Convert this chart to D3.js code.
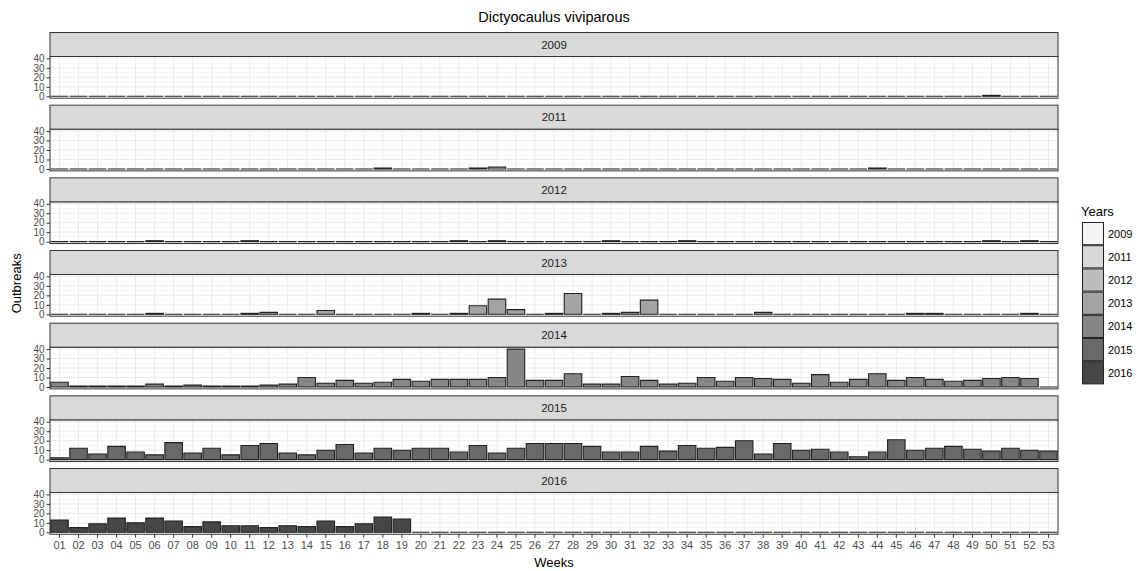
<!DOCTYPE html>
<html>
<head>
<meta charset="utf-8">
<script src="https://cdn.jsdelivr.net/npm/d3@7"></script>
<style>
  body { margin: 0; background: #fff; }
  svg { display: block; font-family: "Liberation Sans", Arial, Helvetica, sans-serif; }
</style>
</head>
<body>
<svg id="chart" width="1137" height="571"></svg>
<script>
// ---------- data ----------
const weeks = ["01","02","03","04","05","06","07","08","09","10","11","12","13","14","15","16","17","18","19","20",
  "21","22","23","24","25","26","27","28","29","30","31","32","33","34","35","36","37","38","39","40",
  "41","42","43","44","45","46","47","48","49","50","51","52","53"];
const years = ["2009","2011","2012","2013","2014","2015","2016"];
const yTicks = [0, 10, 20, 30, 40];
const yearColors = ["#f4f4f4","#d8d8d8","#bdbdbd","#a3a3a3","#868686","#696969","#474747"];

const values2009 = [0,0,0,0,0,0,0,0,0,0, 0,0,0,0,0,0,0,0,0,0, 0,0,0,0,0,0,0,0,0,0, 0,0,0,0,0,0,0,0,0,0, 0,0,0,0,0,0,0,0,0,1, 0,0,0];
const values2011 = [0,0,0,0,0,0,0,0,0,0, 0,0,0,0,0,0,0,1,0,0, 0,0,1,2,0,0,0,0,0,0, 0,0,0,0,0,0,0,0,0,0, 0,0,0,1,0,0,0,0,0,0, 0,0,0];
const values2012 = [0,0,0,0,0,1,0,0,0,0, 1,0,0,0,0,0,0,0,0,0, 0,1,0,1,0,0,0,0,0,1, 0,0,0,1,0,0,0,0,0,0, 0,0,0,0,0,0,0,0,0,1, 0,1,0];
const values2013 = [0,0,0,0,0,1,0,0,0,0, 1,2,0,0,4,0,0,0,0,1, 0,1,9,16,5,0,1,22,0,1, 2,15,0,0,0,0,0,2,0,0, 0,0,0,0,0,1,1,0,0,0, 0,1,0];
const values2014 = [5,1,1,1,1,3,1,2,1,1, 1,2,3,10,4,7,4,5,8,6, 8,8,8,10,40,7,7,14,3,3, 11,7,3,4,10,6,10,9,8,4, 13,5,8,14,7,10,8,6,7,9, 10,9,0];
const values2015 = [2,12,6,14,8,5,18,7,12,5, 15,17,7,5,10,16,7,12,10,12, 12,8,15,7,12,17,17,17,14,8, 8,14,9,15,12,13,20,6,17,10, 11,8,3,8,21,10,12,14,11,9, 12,10,9];
const values2016 = [13,5,9,15,10,15,12,6,11,7, 7,5,7,6,12,6,9,16,14,0, 0,0,0,0,0,0,0,0,0,0, 0,0,0,0,0,0,0,0,0,0, 0,0,0,0,0,0,0,0,0,0, 0,0,0];
const seriesValues = [values2009, values2011, values2012, values2013, values2014, values2015, values2016];

// ---------- layout ----------
const svg = d3.select("#chart");
const left = 50, right = 1058;
const firstStrip = 32.5, period = 72.67, stripH = 24, plotH = 41.7;

const x = d3.scaleBand().domain(weeks).range([left, right]).paddingInner(0.08).paddingOuter(0.04);
const y = d3.scaleLinear().domain([-2, 42]).range([plotH, 0]);
const color = d3.scaleOrdinal().domain(years).range(yearColors);

// title
svg.append("text").attr("x", (left + right) / 2).attr("y", 22).attr("text-anchor", "middle")
  .attr("font-size", 14.5).attr("fill", "#000").text("Dictyocaulus viviparous");

years.forEach((yr, i) => {
  const st = firstStrip + i * period;
  const pt = st + stripH;
  const g = svg.append("g").attr("transform", `translate(0,${pt})`);

  g.append("rect").attr("x", left).attr("y", 0).attr("width", right - left).attr("height", plotH).attr("fill", "#fff");
  g.selectAll("line.ymin").data([5, 15, 25, 35]).enter().append("line")
    .attr("x1", left).attr("x2", right).attr("y1", d => y(d)).attr("y2", d => y(d))
    .attr("stroke", "#f2f2f2").attr("stroke-width", 0.6);
  g.selectAll("line.ymaj").data(yTicks).enter().append("line")
    .attr("x1", left).attr("x2", right).attr("y1", d => y(d)).attr("y2", d => y(d))
    .attr("stroke", "#ebebeb").attr("stroke-width", 1);
  g.selectAll("line.xmaj").data(weeks).enter().append("line")
    .attr("x1", d => x(d) + x.bandwidth() / 2).attr("x2", d => x(d) + x.bandwidth() / 2)
    .attr("y1", 0).attr("y2", plotH)
    .attr("stroke", "#ebebeb").attr("stroke-width", 1);

  const vals = seriesValues[i];
  g.selectAll("path.bar").data(weeks.map((w, k) => ({ w, v: vals[k] }))).enter().append("path")
    .attr("d", d => {
      const x0 = x(d.w), x1 = x(d.w) + x.bandwidth();
      const y0 = y(0), y1 = y(d.v);
      return `M${x0},${y0}L${x0},${y1}L${x1},${y1}L${x1},${y0}Z`;
    })
    .attr("fill", color(yr)).attr("stroke", "#222").attr("stroke-width", 1.1);

  g.append("rect").attr("x", left).attr("y", 0).attr("width", right - left).attr("height", plotH)
    .attr("fill", "none").attr("stroke", "#333").attr("stroke-width", 1);

  svg.append("rect").attr("x", left).attr("y", st).attr("width", right - left).attr("height", stripH)
    .attr("fill", "#d9d9d9").attr("stroke", "#333").attr("stroke-width", 1);
  svg.append("text").attr("x", (left + right) / 2).attr("y", st + stripH / 2 + 4)
    .attr("text-anchor", "middle").attr("font-size", 11.5).attr("fill", "#1a1a1a").text(yr);

  const ya = g.append("g").attr("transform", `translate(${left},0)`)
    .call(d3.axisLeft(y).tickValues(yTicks).tickSize(3.5).tickPadding(2));
  ya.select(".domain").remove();
  ya.selectAll("line").attr("stroke", "#333");
  ya.selectAll("text").attr("fill", "#4d4d4d").attr("font-size", 10)
    .attr("font-family", "'Liberation Sans', Arial, sans-serif");

  if (i === years.length - 1) {
    const xa = g.append("g").attr("transform", `translate(0,${plotH})`)
      .call(d3.axisBottom(x).tickSize(3.5).tickPadding(3));
    xa.select(".domain").remove();
    xa.selectAll("line").attr("stroke", "#333");
    xa.selectAll("text").attr("fill", "#4d4d4d").attr("font-size", 11)
      .attr("font-family", "'Liberation Sans', Arial, sans-serif");
  }
});

svg.append("text").attr("x", (left + right) / 2).attr("y", 567).attr("text-anchor", "middle")
  .attr("font-size", 13).attr("fill", "#000").text("Weeks");
const yMid = (firstStrip + (years.length - 1) * period + stripH + plotH + firstStrip) / 2;
svg.append("text").attr("transform", `translate(21,${yMid}) rotate(-90)`).attr("text-anchor", "middle")
  .attr("font-size", 13).attr("fill", "#000").text("Outbreaks");

const lg = svg.append("g").attr("transform", "translate(1082,0)");
lg.append("text").attr("x", -1).attr("y", 216).attr("font-size", 13).attr("fill", "#000").text("Years");
const keyH = 23.2, keyW = 21, keyTop = 222;
years.forEach((yr, i) => {
  lg.append("rect").attr("x", 0.5).attr("y", keyTop + i * keyH + 0.5).attr("width", keyW).attr("height", keyH - 1)
    .attr("fill", color(yr)).attr("stroke", "#222").attr("stroke-width", 1);
  lg.append("text").attr("x", keyW + 5).attr("y", keyTop + i * keyH + keyH / 2 + 4)
    .attr("font-size", 11).attr("fill", "#000").text(yr);
});
</script>
</body>
</html>
